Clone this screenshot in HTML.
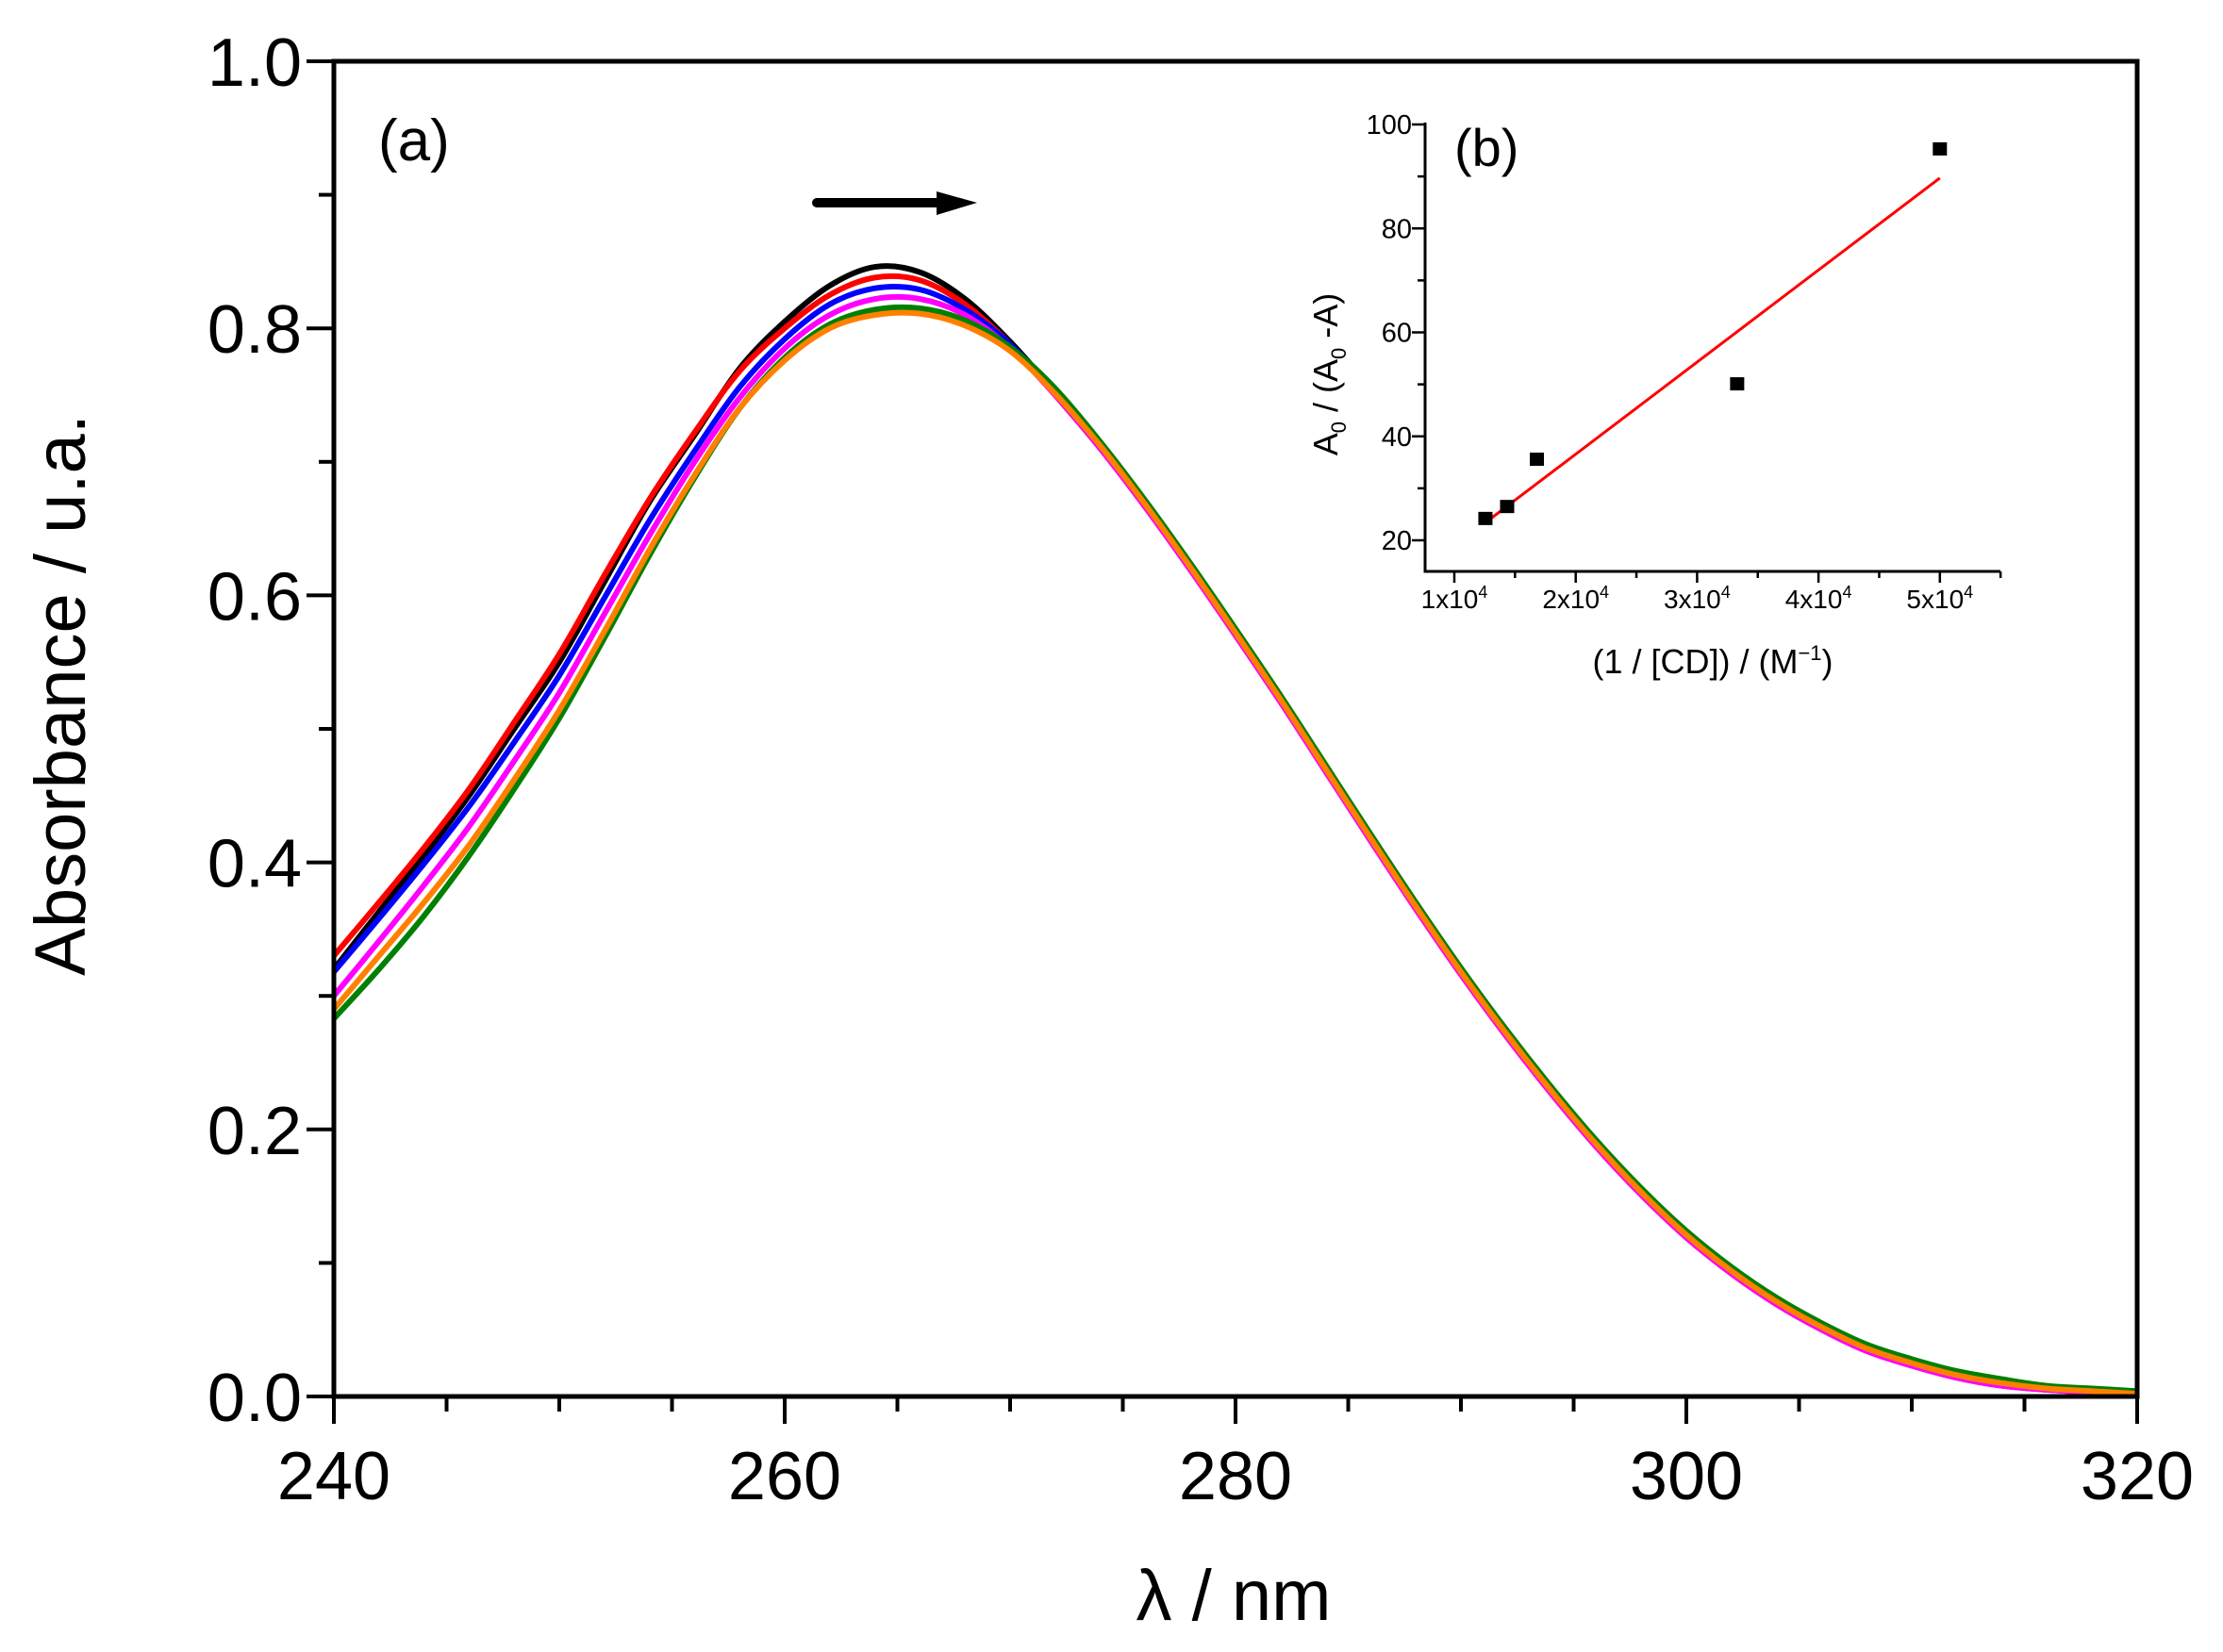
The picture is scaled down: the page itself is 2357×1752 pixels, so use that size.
<!DOCTYPE html>
<html><head><meta charset="utf-8"><style>
html,body{margin:0;padding:0;background:#fff;}
svg{display:block;font-family:"Liberation Sans",Arial,sans-serif;}
</style></head><body>
<svg id="chart" width="2357" height="1752" viewBox="0 0 2357 1752" xmlns="http://www.w3.org/2000/svg">
<rect width="2357" height="1752" fill="#fff"/>
<g id="main-plot"></g>
<g id="inset-plot"></g>
</svg>
<script>
const wavelengths = [240,242,244,246,248,250,252,254,256,258,260,262,264,266,268,270,272,274,276,278,280,282,284,286,288,290,292,294,296,298,300,302,304,306,308,310,312,314,316,318,320];
const seriesBlack = [0.320,0.363,0.405,0.450,0.500,0.550,0.610,0.670,0.720,0.770,0.805,0.832,0.846,0.842,0.822,0.790,0.752,0.712,0.668,0.621,0.572,0.522,0.470,0.418,0.367,0.318,0.272,0.229,0.189,0.153,0.121,0.094,0.071,0.052,0.036,0.025,0.016,0.010,0.006,0.004,0.002];
const seriesRed = [0.330,0.370,0.411,0.455,0.505,0.556,0.615,0.672,0.722,0.768,0.800,0.825,0.838,0.836,0.818,0.788,0.750,0.710,0.666,0.619,0.570,0.520,0.468,0.416,0.365,0.316,0.270,0.227,0.187,0.151,0.119,0.092,0.069,0.050,0.034,0.023,0.014,0.008,0.005,0.003,0.001];
const seriesBlue = [0.318,0.358,0.399,0.442,0.490,0.540,0.598,0.656,0.708,0.756,0.792,0.818,0.830,0.829,0.814,0.788,0.752,0.713,0.669,0.622,0.573,0.523,0.471,0.419,0.368,0.319,0.273,0.230,0.190,0.154,0.122,0.095,0.072,0.053,0.037,0.026,0.017,0.011,0.007,0.005,0.004];
const seriesMagenta = [0.300,0.341,0.383,0.427,0.476,0.527,0.586,0.645,0.700,0.748,0.785,0.810,0.822,0.822,0.810,0.785,0.750,0.710,0.666,0.619,0.570,0.520,0.468,0.416,0.365,0.316,0.270,0.227,0.187,0.151,0.119,0.092,0.069,0.050,0.034,0.023,0.014,0.008,0.005,0.003,0.001];
const seriesGreen = [0.283,0.320,0.360,0.405,0.455,0.508,0.568,0.630,0.688,0.740,0.778,0.803,0.814,0.815,0.806,0.786,0.755,0.715,0.671,0.624,0.575,0.525,0.473,0.421,0.370,0.321,0.275,0.232,0.192,0.156,0.124,0.097,0.074,0.055,0.039,0.028,0.019,0.013,0.008,0.006,0.004];
const seriesOrange = [0.290,0.330,0.370,0.413,0.462,0.514,0.573,0.634,0.690,0.740,0.776,0.800,0.810,0.811,0.802,0.783,0.751,0.712,0.668,0.621,0.572,0.522,0.470,0.418,0.367,0.318,0.272,0.229,0.189,0.153,0.121,0.094,0.071,0.052,0.036,0.025,0.016,0.010,0.006,0.004,0.002];
const xTickLabels = ["240","260","280","300","320"];
const xTickValues = [240,260,280,300,320];
const yTickLabels = ["0.0","0.2","0.4","0.6","0.8","1.0"];
const yTickValues = [0,0.2,0.4,0.6,0.8,1.0];
const insetX = [1.256,1.435,1.68,3.33,5.0];
const insetY = [24.2,26.5,35.6,50.1,95.3];
const insetFitX = [1.256,5.0];
const insetFitY = [23.4,89.7];
const insetYTicks = [20,40,60,80,100];
const insetXTicks = [1,2,3,4,5];

const NS="http://www.w3.org/2000/svg";
function mk(parent,tag,attrs,text){const e=document.createElementNS(NS,tag);for(const k in attrs)e.setAttribute(k,attrs[k]);if(text!==undefined)e.textContent=text;parent.appendChild(e);return e;}
const main=document.getElementById('main-plot');
const L=354,R=2266,T=65,B=1481;
const sx=v=>L+(v-240)/80*(R-L);
const sy=v=>B-v*(B-T);

function smoothPath(xs,ys){
  const p=xs.map((x,i)=>[sx(x),sy(ys[i])]);
  let d=`M${p[0][0]},${p[0][1]}`;
  for(let i=0;i<p.length-1;i++){
    const p0=p[Math.max(0,i-1)],p1=p[i],p2=p[i+1],p3=p[Math.min(p.length-1,i+2)];
    const c1=[p1[0]+(p2[0]-p0[0])/6,p1[1]+(p2[1]-p0[1])/6];
    const c2=[p2[0]-(p3[0]-p1[0])/6,p2[1]-(p3[1]-p1[1])/6];
    d+=` C${c1[0]},${c1[1]} ${c2[0]},${c2[1]} ${p2[0]},${p2[1]}`;
  }
  return d;
}
const series=[[seriesBlack,'#000','curve-black'],[seriesRed,'#ff0000','curve-red'],[seriesBlue,'#0000ff','curve-blue'],[seriesMagenta,'#ff00ff','curve-magenta'],[seriesGreen,'#008000','curve-green'],[seriesOrange,'#ff8000','curve-orange']];
series.forEach(s=>{
  const el=mk(main,'path',{d:smoothPath(wavelengths,s[0]),fill:'none',stroke:s[1],'stroke-width':6,'stroke-linejoin':'round'});
  
  
});
const frame=mk(main,'rect',{x:L,y:T,width:R-L,height:B-T,fill:'none',stroke:'#000','stroke-width':5});


for(let v=240;v<=320;v+=5){
  const major=v%20===0;
  const t=mk(main,'line',{x1:sx(v),x2:sx(v),y1:B,y2:B+(major?29:16),stroke:'#000','stroke-width':4});
  
  
}
xTickValues.forEach((v,i)=>{
  const t=mk(main,'text',{x:sx(v),y:1590,'font-size':72,'text-anchor':'middle'},xTickLabels[i]);
  
  
});
for(let k=0;k<=10;k++){
  const v=k/10,major=k%2===0;
  const t=mk(main,'line',{x1:L,x2:L-(major?29:16),y1:sy(v),y2:sy(v),stroke:'#000','stroke-width':4});
  
  
}
yTickValues.forEach((v,i)=>{
  const t=mk(main,'text',{x:320,y:sy(v)+26,'font-size':72,'text-anchor':'end'},yTickLabels[i]);
  
  
});
let e=mk(main,'text',{x:1308,y:1718,'font-size':76,'text-anchor':'middle'},'λ / nm');


e=mk(main,'text',{x:0,y:0,'font-size':76,'text-anchor':'middle',transform:'translate(90,737) rotate(-90)'},'Absorbance / u.a.');


e=mk(main,'text',{x:401,y:170,'font-size':62},'(a)');


e=mk(main,'line',{x1:866,x2:1000,y1:215,y2:215,stroke:'#000','stroke-width':10,'stroke-linecap':'round'});


e=mk(main,'polygon',{points:'993,203 1036,215 993,228',fill:'#000'});



const ins=document.getElementById('inset-plot');
const iL=1511,iR=2121,iB=606;
const ix=v=>1542+(v-1)*128.7;
const iy=v=>573-(v-20)*5.5125;
e=mk(ins,'line',{x1:iL,x2:iL,y1:iy(100)-2,y2:iB+1.5,stroke:'#000','stroke-width':3});


e=mk(ins,'line',{x1:iL,x2:iR,y1:iB,y2:iB,stroke:'#000','stroke-width':3});


for(let v=20;v<=100;v+=10){
  const major=v%20===0;
  const t=mk(ins,'line',{x1:iL,x2:iL-(major?14:8),y1:iy(v),y2:iy(v),stroke:'#000','stroke-width':2.5});
  
  
}
insetYTicks.forEach(v=>{
  const t=mk(ins,'text',{x:1497,y:iy(v)+10,'font-size':29,'text-anchor':'end'},String(v));
  
  
});
for(let v=1;v<=5.5;v+=0.5){
  const major=Number.isInteger(v);
  const t=mk(ins,'line',{x1:ix(v),x2:ix(v),y1:iB,y2:iB+(major?12:7),stroke:'#000','stroke-width':2.5});
  
  
}
insetXTicks.forEach(v=>{
  const t=mk(ins,'text',{x:ix(v),y:645,'font-size':28,'text-anchor':'middle'});
  
  
  mk(t,'tspan',{},v+'x10');
  mk(t,'tspan',{dy:-11,'font-size':18},'4');
});
e=mk(ins,'line',{x1:ix(insetFitX[0]),y1:iy(insetFitY[0]),x2:ix(insetFitX[1]),y2:iy(insetFitY[1]),stroke:'#ff0000','stroke-width':3});


insetX.forEach((v,i)=>{
  const p=mk(ins,'rect',{x:ix(v)-7.5,y:iy(insetY[i])-7,width:15,height:14,fill:'#000'});
  
  
});
e=mk(ins,'text',{x:1542,y:176,'font-size':56},'(b)');


e=mk(ins,'text',{x:1816,y:714,'font-size':36,'text-anchor':'middle'});


mk(e,'tspan',{},'(1 / [CD]) / (M');
mk(e,'tspan',{dy:-14,'font-size':22},'−1');
mk(e,'tspan',{dy:14},')');
e=mk(ins,'text',{x:0,y:0,'font-size':36,'text-anchor':'middle',transform:'translate(1418,397) rotate(-90)'});


mk(e,'tspan',{},'A');
mk(e,'tspan',{dy:9,'font-size':22},'0');
mk(e,'tspan',{dy:-9},' / (A');
mk(e,'tspan',{dy:9,'font-size':22},'0');
mk(e,'tspan',{dy:-9},' -A)');
</script>
</body></html>
